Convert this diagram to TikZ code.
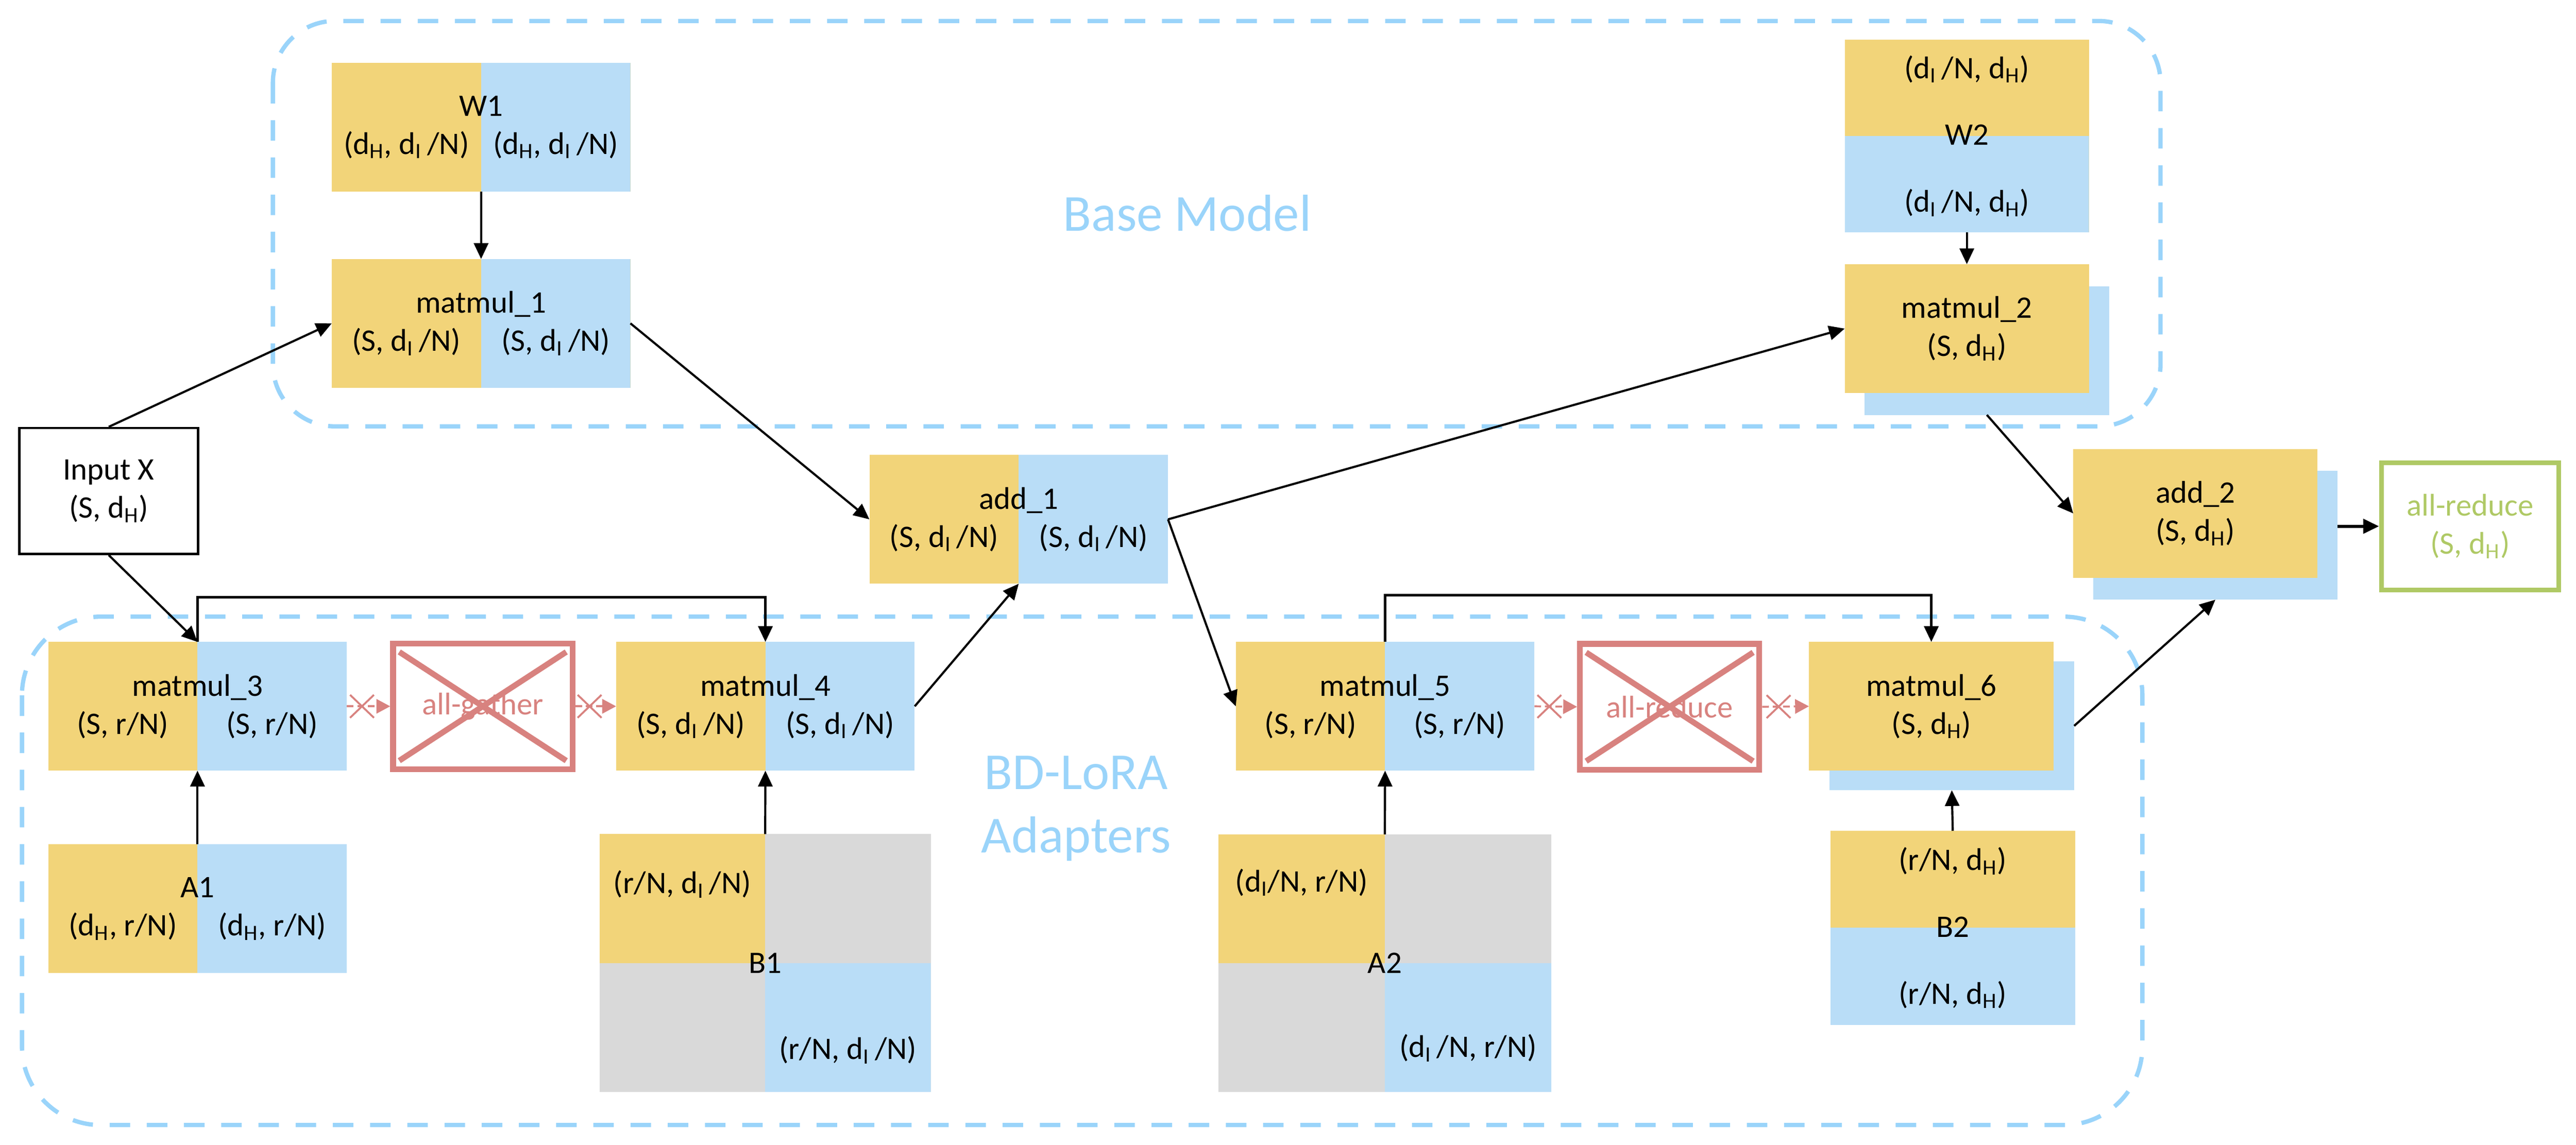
\documentclass[tikz,border=0pt]{standalone}
\usepackage{fontspec}
\setmainfont{Carlito}
\usetikzlibrary{arrows.meta,shapes.misc}

\definecolor{yelc}{HTML}{F2D479}
\definecolor{bluc}{HTML}{B9DDF7}
\definecolor{grayc}{HTML}{D9D9D9}
\definecolor{redc}{HTML}{D8827F}
\definecolor{grnc}{HTML}{AFC965}
\definecolor{dashc}{HTML}{9AD4FA}

\newlength{\halfw}
\setlength{\halfw}{3.13cm}
\newcommand{\halves}[3]{#1\\\makebox[\halfw]{#2}\makebox[\halfw]{#3}}
\newcommand{\sdH}{d\textsubscript{H}}
\newcommand{\sdI}{d\textsubscript{I}}

\tikzset{
  blk/.style={minimum width=6.26cm, minimum height=2.70cm, inner sep=0pt, outer sep=0pt, fill=yelc, align=center},
  lrblk/.style={blk, path picture={\fill[bluc] (path picture bounding box.north) rectangle (path picture bounding box.south east);}},
  tbblk/.style={blk, path picture={\fill[bluc] (path picture bounding box.west) rectangle (path picture bounding box.south east);}},
  quadblk/.style={blk, fill=grayc, path picture={
      \fill[yelc] (path picture bounding box.north west) rectangle (path picture bounding box.center);
      \fill[bluc] (path picture bounding box.center) rectangle (path picture bounding box.south east);}},
  backblk/.style={blk, fill=bluc},
  inbox/.style={draw=black, line width=0.05cm, minimum width=3.75cm, minimum height=2.64cm, align=center},
  outbox/.style={draw=grnc, line width=0.10cm, text=grnc, minimum width=3.72cm, minimum height=2.67cm, align=center},
  xbox/.style={draw=redc, line width=0.12cm, text=redc, minimum width=3.76cm, minimum height=2.64cm, inner sep=0pt,
    path picture={
      \draw[redc, line width=0.12cm] ([shift={(0.13,-0.18)}]path picture bounding box.north west) -- ([shift={(-0.13,0.18)}]path picture bounding box.south east);
      \draw[redc, line width=0.12cm] ([shift={(0.13,0.18)}]path picture bounding box.south west) -- ([shift={(-0.13,-0.18)}]path picture bounding box.north east);}},
  xmark/.style={cross out, draw=redc, solid, line width=0.04cm, minimum width=0.46cm, minimum height=0.44cm, inner sep=0pt, pos=0.35},
  grpbox/.style={draw=dashc, line width=0.09cm, dash pattern=on 0.43cm off 0.35cm},
  grplbl/.style={text=dashc, font=\fontsize{31}{37.6}\selectfont, align=center},
  arr/.style={-{Triangle[length=0.33cm,width=0.30cm]}, line width=0.045cm},
  redarr/.style={-{Triangle[length=0.29cm,width=0.30cm]}, draw=redc, line width=0.04cm, dash pattern=on 0.14cm off 0.08cm}
}

\begin{document}
\begin{tikzpicture}[font=\fontsize{18.7}{22.8}\selectfont]
\useasboundingbox (0,0) rectangle (54,-24);
% groups
\draw[grpbox, rounded corners=1.3cm] (5.72,-0.44) rectangle (45.29,-8.94);
\draw[grpbox, rounded corners=1.65cm] (0.46,-12.93) rectangle (44.91,-23.59);
\node[grplbl] (basetxt) at (24.89,-4.47) {Base Model};
\node[grplbl] (loratxt) at (22.56,-16.955) {BD-LoRA\\Adapters};

% base model
\node[lrblk] (W1) at (10.085,-2.665) {\halves{W1}{(\sdH, \sdI\,/N)}{(\sdH, \sdI\,/N)}};
\node[lrblk] (matmul1) at (10.085,-6.78) {\halves{matmul\_1}{(S, \sdI\,/N)}{(S, \sdI\,/N)}};
\node[tbblk, minimum width=5.12cm, minimum height=4.04cm] (W2) at (41.23,-2.85) {(\sdI\,/N, \sdH)\\[0.6cm]W2\\[0.6cm](\sdI\,/N, \sdH)};
\node[backblk, minimum width=5.12cm] (matmul2back) at (41.65,-7.35) {};
\node[blk, minimum width=5.12cm] (matmul2) at (41.23,-6.89) {matmul\_2\\(S, \sdH)};

% middle row
\node[inbox] (inputx) at (2.28,-10.295) {Input X\\(S, \sdH)};
\node[lrblk] (add1) at (21.355,-10.89) {\halves{add\_1}{(S, \sdI\,/N)}{(S, \sdI\,/N)}};
\node[backblk, minimum width=5.12cm] (add2back) at (46.44,-11.225) {};
\node[blk, minimum width=5.12cm] (add2) at (46.02,-10.765) {add\_2\\(S, \sdH)};
\node[outbox] (allreduceout) at (51.78,-11.035) {all-reduce\\(S, \sdH)};

% adapters
\node[lrblk] (matmul3) at (4.14,-14.81) {\halves{matmul\_3}{(S, r/N)}{(S, r/N)}};
\node[xbox] (allgather) at (10.12,-14.81) {all-gather};
\node[lrblk] (matmul4) at (16.045,-14.81) {\halves{matmul\_4}{(S, \sdI\,/N)}{(S, \sdI\,/N)}};
\node[lrblk] (A1) at (4.14,-19.055) {\halves{A1}{(\sdH, r/N)}{(\sdH, r/N)}};
\node[quadblk, minimum width=6.94cm, minimum height=5.41cm] (B1) at (16.04,-20.195) {B1};
\node (B1tl) at ([xshift=-1.735cm,yshift=-1.05cm]B1.north) {(r/N, \sdI\,/N)};
\node (B1br) at ([xshift=1.735cm,yshift=0.88cm]B1.south) {(r/N, \sdI\,/N)};
\node[lrblk] (matmul5) at (29.035,-14.81) {\halves{matmul\_5}{(S, r/N)}{(S, r/N)}};
\node[xbox] (allreducex) at (35.00,-14.82) {all-reduce};
\node[backblk, minimum width=5.13cm] (matmul6back) at (40.915,-15.22) {};
\node[blk, minimum width=5.13cm] (matmul6) at (40.485,-14.81) {matmul\_6\\(S, \sdH)};
\node[quadblk, minimum width=6.98cm, minimum height=5.40cm] (A2) at (29.03,-20.195) {A2};
\node (A2tl) at ([xshift=-1.745cm,yshift=-1.01cm]A2.north) {(\sdI/N, r/N)};
\node (A2br) at ([xshift=1.745cm,yshift=0.92cm]A2.south) {(\sdI\,/N, r/N)};
\node[tbblk, minimum width=5.13cm, minimum height=4.07cm] (B2) at (40.935,-19.455) {(r/N, \sdH)\\[0.6cm]B2\\[0.6cm](r/N, \sdH)};

% connectors
\draw[arr] (inputx.north) -- (matmul1.west);
\draw[arr] (W1) -- (matmul1);
\draw[arr] (matmul1.east) -- (add1.west);
\draw[arr] (add1.east) -- (matmul2.west);
\draw[arr] (W2) -- (matmul2);
\draw[arr] (matmul2back.south) -- (add2.west);
\draw[arr, line width=0.065cm] (add2back.east |- allreduceout.west) -- (allreduceout.west);
\draw[arr] (inputx.south) -- (matmul3.north);
\draw[arr] (A1) -- (matmul3);
\draw[arr, line width=0.05cm] (matmul3.north) -- ++(0,0.94) -| (matmul4.north);
\draw[redarr] (matmul3.east) -- node[xmark] (xm1) {} (allgather.west);
\draw[redarr] (allgather.east) -- node[xmark] (xm2) {} (matmul4.west);
\draw[arr] (B1.north) -- (matmul4.south);
\draw[arr] (matmul4.east) -- (add1.south);
\draw[arr] (add1.east) -- (matmul5.west);
\draw[arr] (A2.north) -- (matmul5.south);
\draw[arr, line width=0.05cm] (matmul5.north) -- ++(0,0.98) -| (matmul6.north);
\draw[redarr] (matmul5.east) -- node[xmark] (xm3) {} (allreducex.west);
\draw[redarr] (allreducex.east) -- node[xmark] (xm4) {} (matmul6.west);
\draw[arr] (B2.north) -- (matmul6back.south);
\draw[arr] (matmul6back.east) -- (add2back.south);
\end{tikzpicture}
\end{document}
